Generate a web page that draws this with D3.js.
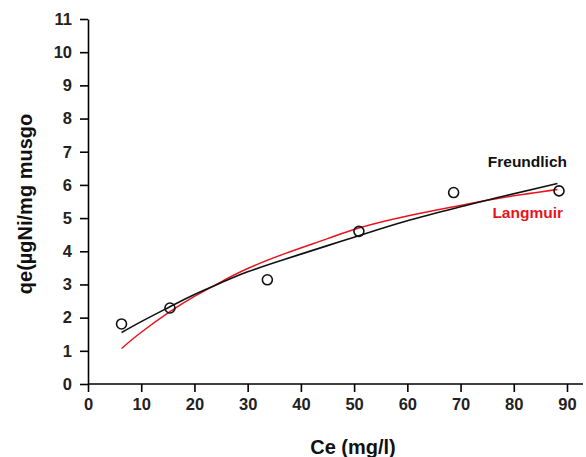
<!DOCTYPE html>
<html>
<head>
<meta charset="utf-8">
<script src="https://cdn.jsdelivr.net/npm/d3@7"></script>
<style>
  body { margin: 0; background: #fff; }
  svg { display: block; font-family: "Liberation Sans", Arial, sans-serif; font-weight: bold; }
</style>
</head>
<body>
<div id="chart"></div>
<script>
// measured points
const ceObs = [6.3, 15.4, 33.7, 50.9, 68.7, 88.5];
const qeObs = [1.81, 2.29, 3.14, 4.60, 5.77, 5.82];

// fitted curves
const ceFit = [6.3, 10, 15.4, 20, 25, 30, 37, 45, 50.9, 60, 70, 78, 88.2];
const qeFreundlich = [1.55, 1.88, 2.33, 2.70, 3.05, 3.38, 3.76, 4.17, 4.47, 4.92, 5.34, 5.66, 6.04];
const qeLangmuir = [1.07, 1.56, 2.18, 2.64, 3.08, 3.48, 3.93, 4.38, 4.70, 5.06, 5.38, 5.62, 5.86];

const xTicks = [0, 10, 20, 30, 40, 50, 60, 70, 80, 90];
const yTicks = [0, 1, 2, 3, 4, 5, 6, 7, 8, 9, 10, 11];

const width = 586, height = 457;
const x0 = 88, y0 = 384;

const svg = d3.select("#chart")
  .append("svg")
  .attr("width", width)
  .attr("height", height);

const x = d3.scaleLinear().domain([0, 90]).range([x0, 567]);
const y = d3.scaleLinear().domain([0, 11]).range([y0, 19]);

//x axis
const xAxis = svg.append("g")
  .attr("transform", `translate(0,${y0})`)
  .call(d3.axisBottom(x).tickValues(xTicks).tickSize(8).tickPadding(6).tickSizeOuter(0));
xAxis.select(".domain").attr("d", `M${x0},0H583`);

//y axis
const yAxis = svg.append("g")
  .attr("transform", `translate(${x0},0)`)
  .call(d3.axisLeft(y).tickValues(yTicks).tickSize(8).tickPadding(8).tickSizeOuter(0));

svg.selectAll(".domain, .tick line").attr("stroke", "#000").attr("stroke-width", 1.6);
svg.selectAll(".tick text")
  .attr("fill", "#222")
  .style("font-size", "16.5px")
  .style("font-weight", "bold")
  .style("font-family", "'Liberation Sans', Arial, sans-serif");

//axis titles
svg.append("text")
  .attr("x", 353)
  .attr("y", 454)
  .attr("text-anchor", "middle")
  .style("font-size", "20px")
  .attr("fill", "#111")
  .text("Ce (mg/l)");

svg.append("text")
  .attr("transform", "translate(32,204) rotate(-90)")
  .attr("text-anchor", "middle")
  .style("font-size", "20px")
  .attr("fill", "#111")
  .text("qe(\u00b5gNi/mg musgo");

//curves
const line = (vals) => d3.line()
  .x((d, i) => x(ceFit[i]))
  .y((d) => y(d))
  .curve(d3.curveNatural)(vals);

svg.append("path")
  .attr("d", line(qeLangmuir))
  .attr("fill", "none")
  .attr("stroke", "#e8141c")
  .attr("stroke-width", 1.5);

svg.append("path")
  .attr("d", line(qeFreundlich))
  .attr("fill", "none")
  .attr("stroke", "#111")
  .attr("stroke-width", 1.6);

//points
svg.selectAll(".pt")
  .data(ceObs)
  .enter()
  .append("circle")
  .attr("cx", (d) => x(d))
  .attr("cy", (d, i) => y(qeObs[i]))
  .attr("r", 5)
  .attr("fill", "none")
  .attr("stroke", "#111")
  .attr("stroke-width", 1.6);

//curve labels
svg.append("text")
  .attr("x", 567).attr("y", 167)
  .attr("text-anchor", "end")
  .style("font-size", "15.5px")
  .attr("fill", "#111")
  .text("Freundlich");

svg.append("text")
  .attr("x", 563).attr("y", 218)
  .attr("text-anchor", "end")
  .style("font-size", "15.5px")
  .attr("fill", "#e8141c")
  .text("Langmuir");
</script>
</body>
</html>
